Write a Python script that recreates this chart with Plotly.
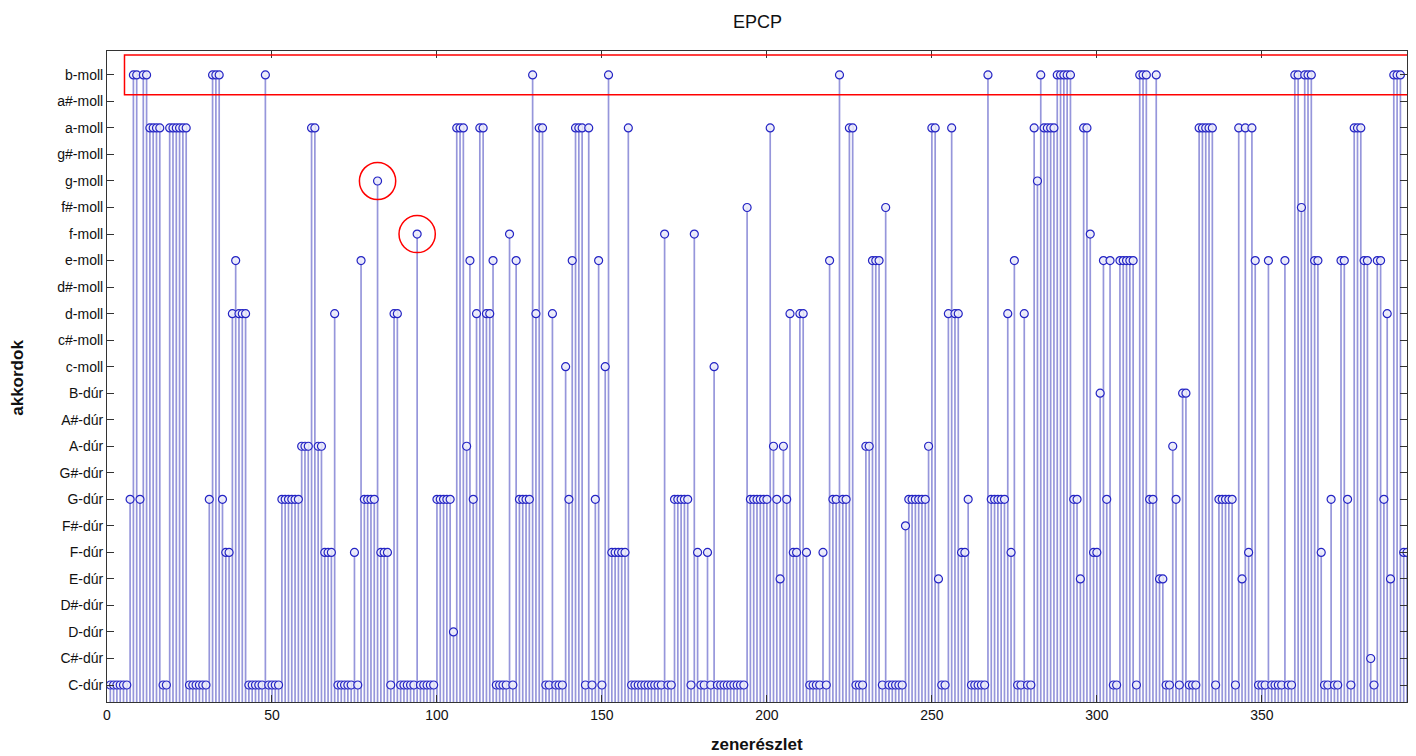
import plotly.graph_objects as go

# Chord categories (y axis, bottom to top)
chords = ["C-dúr", "C#-dúr", "D-dúr", "D#-dúr", "E-dúr", "F-dúr", "F#-dúr", "G-dúr",
          "G#-dúr", "A-dúr", "A#-dúr", "B-dúr", "c-moll", "c#-moll", "d-moll", "d#-moll",
          "e-moll", "f-moll", "f#-moll", "g-moll", "g#-moll", "a-moll", "a#-moll", "b-moll"]

# chord index (1 = C-dúr ... 24 = b-moll) for each segment 1..394
values = [
    1, 1, 1, 1, 1, 1, 8, 24, 24, 8,
    24, 24, 22, 22, 22, 22, 1, 1, 22, 22,
    22, 22, 22, 22, 1, 1, 1, 1, 1, 1,
    8, 24, 24, 24, 8, 6, 6, 15, 17, 15,
    15, 15, 1, 1, 1, 1, 1, 24, 1, 1,
    1, 1, 8, 8, 8, 8, 8, 8, 10, 10,
    10, 22, 22, 10, 10, 6, 6, 6, 15, 1,
    1, 1, 1, 1, 6, 1, 17, 8, 8, 8,
    8, 20, 6, 6, 6, 1, 15, 15, 1, 1,
    1, 1, 1, 18, 1, 1, 1, 1, 1, 8,
    8, 8, 8, 8, 3, 22, 22, 22, 10, 17,
    8, 15, 22, 22, 15, 15, 17, 1, 1, 1,
    1, 18, 1, 17, 8, 8, 8, 8, 24, 15,
    22, 22, 1, 1, 15, 1, 1, 1, 13, 8,
    17, 22, 22, 22, 1, 22, 1, 8, 17, 1,
    13, 24, 6, 6, 6, 6, 6, 22, 1, 1,
    1, 1, 1, 1, 1, 1, 1, 1, 18, 1,
    1, 8, 8, 8, 8, 8, 1, 18, 6, 1,
    1, 6, 1, 13, 1, 1, 1, 1, 1, 1,
    1, 1, 1, 19, 8, 8, 8, 8, 8, 8,
    22, 10, 8, 5, 10, 8, 15, 6, 6, 15,
    15, 6, 1, 1, 1, 1, 6, 1, 17, 8,
    8, 24, 8, 8, 22, 22, 1, 1, 1, 10,
    10, 17, 17, 17, 1, 19, 1, 1, 1, 1,
    1, 7, 8, 8, 8, 8, 8, 8, 10, 22,
    22, 5, 1, 1, 15, 22, 15, 15, 6, 6,
    8, 1, 1, 1, 1, 1, 24, 8, 8, 8,
    8, 8, 15, 6, 17, 1, 1, 15, 1, 1,
    22, 20, 24, 22, 22, 22, 22, 24, 24, 24,
    24, 24, 8, 8, 5, 22, 22, 18, 6, 6,
    12, 17, 8, 17, 1, 1, 17, 17, 17, 17,
    17, 1, 24, 24, 24, 8, 8, 24, 5, 5,
    1, 1, 10, 8, 1, 12, 12, 1, 1, 1,
    22, 22, 22, 22, 22, 1, 8, 8, 8, 8,
    8, 1, 22, 5, 22, 6, 22, 17, 1, 1,
    1, 17, 1, 1, 1, 1, 17, 1, 1, 24,
    24, 19, 24, 24, 24, 17, 17, 6, 1, 1,
    8, 1, 1, 17, 17, 8, 1, 22, 22, 22,
    17, 17, 2, 1, 17, 17, 8, 15, 5, 24,
    24, 24, 6, 6,
]
segments = list(range(1, len(values) + 1))

x_ticks = [0, 50, 100, 150, 200, 250, 300, 350]
x_range = [0, 394]
y_range = [0.36, 24.9]

# highlighted points (red circles) and highlighted row (red box)
highlight_points = [82, 94]
highlight_row = 24

# stems
sx, sy = [], []
for xi, v in zip(segments, values):
    sx += [xi, xi, None]
    sy += [0, v, None]

fig = go.Figure()
fig.add_trace(go.Scatter(x=sx, y=sy, mode="lines",
                         line=dict(color="rgba(80,80,195,0.6)", width=1.7),
                         hoverinfo="skip", showlegend=False))
fig.add_trace(go.Scatter(x=segments, y=values, mode="markers",
                         marker=dict(symbol="circle", size=8, color="rgba(235,235,250,0.9)",
                                     line=dict(color="#2424c4", width=1.2)),
                         showlegend=False))

# red highlight shapes
for hp in highlight_points:
    v = values[hp - 1]
    fig.add_shape(type="circle", xref="x", yref="y",
                  x0=hp - 5.5, x1=hp + 5.5, y0=v - 0.7, y1=v + 0.7,
                  line=dict(color="red", width=1.5))
fig.add_shape(type="rect", xref="x", yref="y",
              x0=5.3, x1=394.5, y0=highlight_row - 0.75, y1=highlight_row + 0.75,
              line=dict(color="red", width=1.5))

axis_common = dict(showline=True, linecolor="#333", linewidth=1, mirror="ticks",
                   ticks="inside", ticklen=7, tickcolor="#333", showgrid=False,
                   zeroline=False, tickfont=dict(family="Liberation Sans, Arial", size=14, color="#111"))

fig.update_xaxes(range=x_range, tickvals=x_ticks, **axis_common)
fig.update_yaxes(range=y_range, tickvals=list(range(1, 25)), ticktext=chords, **axis_common)

fig.update_layout(
    width=1416, height=756,
    margin=dict(l=107, r=9, t=51, b=54),
    plot_bgcolor="white", paper_bgcolor="white",
    annotations=[
        dict(text="EPCP", xref="paper", yref="paper", x=0.5, y=1.0445, showarrow=False,
             font=dict(family="Liberation Sans, Arial", size=18, color="#111"), xanchor="center", yanchor="middle"),
        dict(text="<b>zenerészlet</b>", xref="paper", yref="paper", x=0.5, y=-0.066, showarrow=False,
             font=dict(family="Liberation Sans, Arial", size=17, color="#111"), xanchor="center", yanchor="middle"),
        dict(text="<b>akkordok</b>", xref="paper", yref="paper", x=-0.0685, y=0.498, showarrow=False,
             textangle=-90, font=dict(family="Liberation Sans, Arial", size=17, color="#111"),
             xanchor="center", yanchor="middle"),
    ],
)

fig.write_html("out.html")
